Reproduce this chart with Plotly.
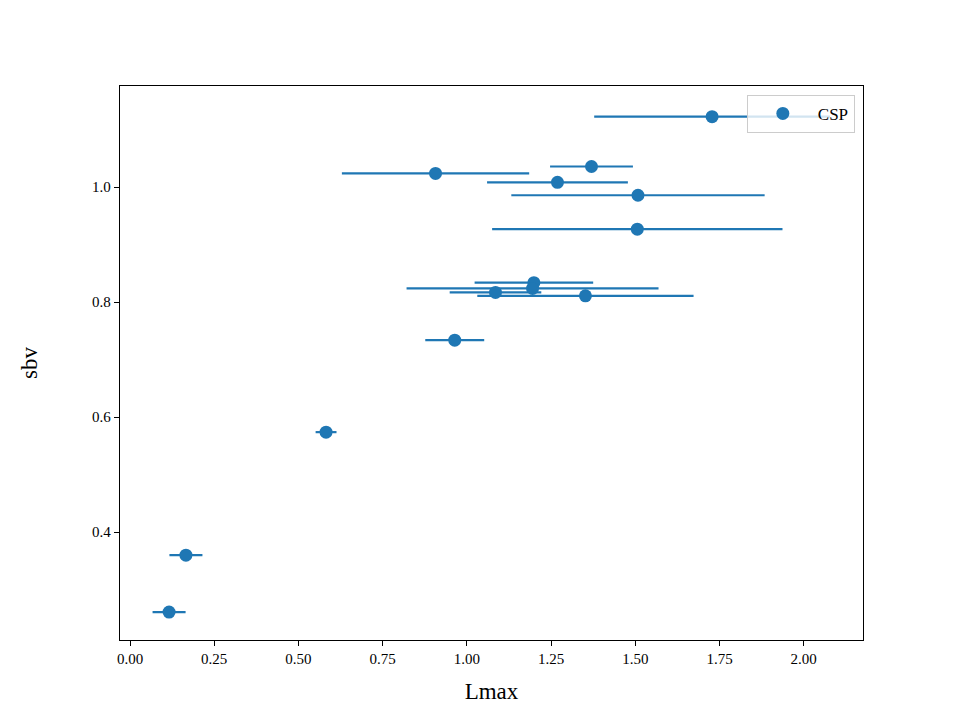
import plotly.graph_objects as go

# Data
lmax = [0.116, 0.166, 0.582, 0.964, 1.199, 1.195, 1.085, 1.352, 0.907, 1.370, 1.269, 1.508, 1.506, 1.728]
sbv = [0.261, 0.360, 0.574, 0.734, 0.834, 0.824, 0.817, 0.811, 1.024, 1.036, 1.0085, 0.986, 0.927, 1.1226]
lmax_err = [0.049, 0.049, 0.031, 0.0875, 0.176, 0.374, 0.136, 0.321, 0.278, 0.123, 0.209, 0.376, 0.431, 0.350]

x_ticks = [0.0, 0.25, 0.5, 0.75, 1.0, 1.25, 1.5, 1.75, 2.0]
x_tick_labels = ["0.00", "0.25", "0.50", "0.75", "1.00", "1.25", "1.50", "1.75", "2.00"]
y_ticks = [0.4, 0.6, 0.8, 1.0]
y_tick_labels = ["0.4", "0.6", "0.8", "1.0"]

C = "#1f77b4"
FONT = "Liberation Serif"

fig = go.Figure()
fig.add_trace(go.Scatter(
    x=lmax, y=sbv, mode="markers", name="CSP",
    marker=dict(color=C, size=13),
    error_x=dict(type="data", array=lmax_err, visible=True, color=C, thickness=2.2, width=0),
))

axis_common = dict(
    showgrid=False, zeroline=False, showline=True, linecolor="black", linewidth=1.3,
    mirror=True, ticks="outside", ticklen=5, tickwidth=1.2, tickcolor="black",
    tickfont=dict(family=FONT, size=15, color="black"),
)

fig.update_layout(
    width=960, height=720,
    margin=dict(l=120, r=97, t=86, b=80),
    paper_bgcolor="white", plot_bgcolor="white",
    font=dict(family=FONT, color="black"),
    showlegend=True,
    legend=dict(
        x=0.989, y=0.984, xanchor="right", yanchor="top",
        itemwidth=60,
        bgcolor="rgba(255,255,255,0.8)", bordercolor="#cccccc", borderwidth=1,
        font=dict(family=FONT, size=17, color="black"),
    ),
    xaxis=dict(
        range=[-0.0297, 2.176], tickvals=x_ticks, ticktext=x_tick_labels,
        title=dict(text="Lmax", font=dict(family=FONT, size=23), standoff=16),
        **axis_common,
    ),
    yaxis=dict(
        range=[0.2125, 1.176], tickvals=y_ticks, ticktext=y_tick_labels,
        title=dict(text="sbv", font=dict(family=FONT, size=23), standoff=48),
        **axis_common,
    ),
)

fig.write_html("out.html")
